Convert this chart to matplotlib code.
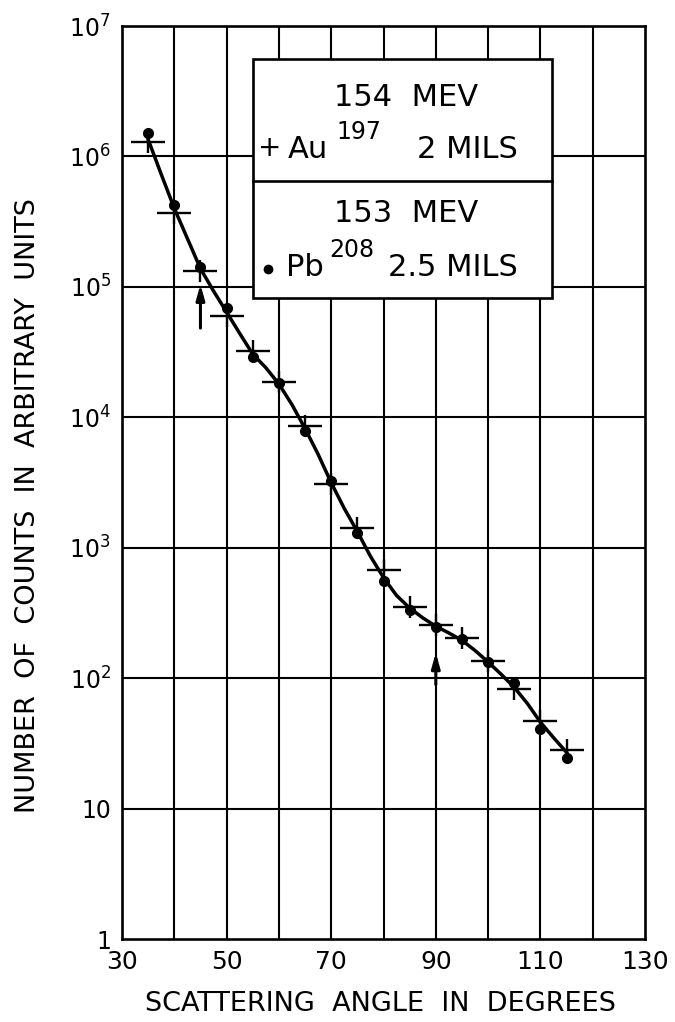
import numpy as np
import matplotlib.pyplot as plt
from matplotlib.path import Path
from matplotlib.patches import Rectangle

plt.rcParams['font.family'] = ['DejaVu Sans']
plt.rcParams['mathtext.default'] = 'regular'

angles = [35, 40, 45, 50, 55, 60, 65, 70, 75, 80, 85, 90, 95, 100, 105, 110, 115]
au_counts = [1.28e6, 3.7e5, 1.33e5, 6.0e4, 3.2e4, 1.87e4, 8.5e3, 3.07e3, 1.42e3,
             678, 352, 257, 203, 135, 82, 47, 28]
pb_counts = [1.5e6, 4.25e5, 1.43e5, 6.9e4, 2.92e4, 1.83e4, 7.9e3, 3.26e3, 1.30e3,
             552, 335, 247, 200, 132, 91, 41, 24.4]

# hand-drawn curve through the points
curve_x = [35, 37.5, 40, 42.5, 45, 47.5, 50, 52.5, 55, 57.5, 60, 62.5, 65, 67.5,
           70, 72.5, 75, 77.5, 80, 82.5, 85, 87.5, 90, 92.5, 95, 97.5, 100,
           102.5, 105, 107.5, 110, 112.5, 115]
curve_y = [1.35e6, 7.3e5, 4.0e5, 2.35e5, 1.38e5, 9.3e4, 6.4e4, 4.4e4, 3.05e4,
           2.4e4, 1.8e4, 1.25e4, 8.2e3, 5.2e3, 3.15e3, 2.0e3, 1.33e3, 860, 590,
           430, 345, 290, 250, 222, 195, 163, 133, 107, 85, 64, 46, 35, 27]

# arrows marking angles
arrow_x = [45, 90]
arrow_tail = [4.6e4, 85]
arrow_head = [1.1e5, 165]

xticks = [30, 50, 70, 90, 110, 130]
yticks = [1, 10, 1e2, 1e3, 1e4, 1e5, 1e6, 1e7]
ytick_labels = ['1', '10', '$10^{2}$', '$10^{3}$', '$10^{4}$', '$10^{5}$',
                '$10^{6}$', '$10^{7}$']

fig = plt.figure(figsize=(6.75, 10.22), dpi=100)
ax = fig.add_axes([122 / 675, 1 - 939 / 1022, 523 / 675, 913 / 1022])
ax.set_yscale('log')
ax.set_xlim(30, 130)
ax.set_ylim(1, 1e7)

# grid
for gx in range(40, 130, 10):
    ax.axvline(gx, color='black', lw=1.5, zorder=1)
for gy in yticks[1:-1]:
    ax.axhline(gy, color='black', lw=1.5, zorder=1)
for s in ax.spines.values():
    s.set_linewidth(1.9)

ax.set_xticks(xticks)
ax.set_yticks(yticks)
ax.set_yticklabels(ytick_labels)
ax.minorticks_off()
ax.tick_params(length=0, pad=8)
ax.tick_params(axis='x', labelsize=18)
ax.tick_params(axis='y', labelsize=17)

ax.plot(curve_x, curve_y, color='black', lw=2.5, zorder=3)

cross = Path([(-1, 0), (1, 0), (0, -0.65), (0, 0.65)],
             [Path.MOVETO, Path.LINETO, Path.MOVETO, Path.LINETO])
ax.plot(angles, au_counts, ls='none', marker=cross, ms=24, mew=1.7,
        color='black', zorder=4)
ax.plot(angles, pb_counts, ls='none', marker='o', ms=7, color='black', zorder=4)

for x, y0, y1 in zip(arrow_x, arrow_tail, arrow_head):
    ax.annotate('', xy=(x, y1), xytext=(x, y0),
                arrowprops=dict(arrowstyle='-|>,head_length=0.9,head_width=0.25',
                                color='black', lw=2.2), zorder=5)

# legend box
bx0, bx1 = (253 - 122) / 523, (552 - 122) / 523
by0, bmid, by1 = 1 - 272 / 913, 1 - 155 / 913, 1 - 33 / 913
ax.add_patch(Rectangle((bx0, by0), bx1 - bx0, by1 - by0, transform=ax.transAxes,
                       facecolor='white', edgecolor='black', lw=1.9, zorder=6))
ax.plot([bx0, bx1], [bmid, bmid], transform=ax.transAxes, color='black', lw=1.9,
        zorder=7)

def fx(px):
    return (px - 122) / 523

def fy(py):
    return 1 - (py - 26) / 913

tkw = dict(transform=ax.transAxes, zorder=8, color='black')
ax.text(fx(406), fy(97), '154  MEV', fontsize=22, ha='center', va='center', **tkw)
ax.text(fx(270), fy(148), '+', fontsize=20, ha='center', va='center', **tkw)
ax.text(fx(288), fy(150), 'Au', fontsize=22, ha='left', va='center', **tkw)
ax.text(fx(336), fy(132), '197', fontsize=17, ha='left', va='center', **tkw)
ax.text(fx(518), fy(150), '2 MILS', fontsize=22, ha='right', va='center', **tkw)
ax.text(fx(406), fy(213), '153  MEV', fontsize=22, ha='center', va='center', **tkw)
ax.plot(fx(268), fy(269), marker='o', ms=6, color='black',
        transform=ax.transAxes, zorder=8)
ax.text(fx(286), fy(267), 'Pb', fontsize=22, ha='left', va='center', **tkw)
ax.text(fx(329), fy(250), '208', fontsize=17, ha='left', va='center', **tkw)
ax.text(fx(518), fy(267), '2.5 MILS', fontsize=22, ha='right', va='center', **tkw)

fig.text(380 / 675, 1 - 1004 / 1022, 'SCATTERING  ANGLE  IN  DEGREES',
         fontsize=19.5, ha='center', va='center')
fig.text(28 / 675, 1 - 506 / 1022, 'NUMBER  OF  COUNTS  IN  ARBITRARY  UNITS',
         fontsize=19.5, ha='center', va='center', rotation=90)

fig.savefig('out.png', dpi=100)
